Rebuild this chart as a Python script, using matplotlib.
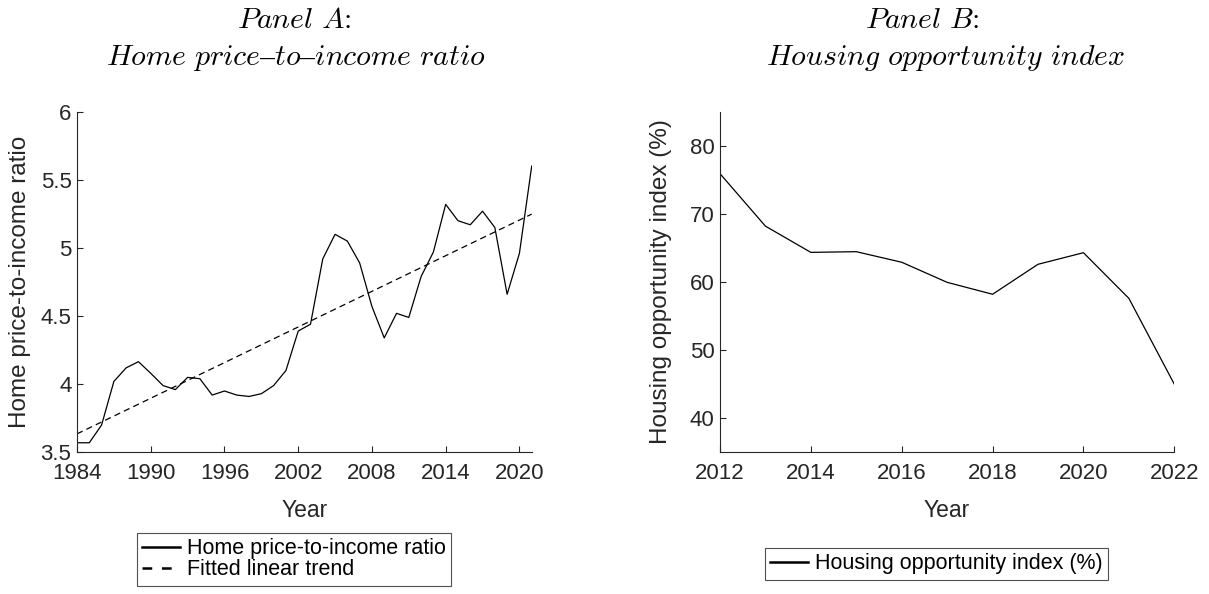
import numpy as np
import matplotlib
matplotlib.use("Agg")
import matplotlib.pyplot as plt
from matplotlib.lines import Line2D

# Panel A: annual home price-to-income ratio
years_a = np.arange(1984, 2022)
ratio = [3.57, 3.57, 3.70, 4.02, 4.12, 4.165, 4.08, 3.99, 3.96, 4.05,
         4.04, 3.92, 3.95, 3.92, 3.91, 3.93, 3.99, 4.10, 4.39, 4.44,
         4.92, 5.10, 5.05, 4.89, 4.57, 4.34, 4.52, 4.49, 4.79, 4.97,
         5.32, 5.20, 5.17, 5.27, 5.15, 4.66, 4.96, 5.60]

# Panel B: housing opportunity index (%)
years_b = np.arange(2012, 2023)
hoi = [75.9, 68.2, 64.35, 64.45, 62.9, 59.95, 58.2, 62.6, 64.3, 57.6, 45.0]

xticks_a = [1984, 1990, 1996, 2002, 2008, 2014, 2020]
yticks_a = [3.5, 4, 4.5, 5, 5.5, 6]
xticks_b = [2012, 2014, 2016, 2018, 2020, 2022]
yticks_b = [40, 50, 60, 70, 80]

plt.rcParams['font.family'] = ['Liberation Sans', 'DejaVu Sans']
plt.rcParams['mathtext.fontset'] = 'cm'
plt.rcParams['lines.scale_dashes'] = False
ink = '#262626'

fig = plt.figure(figsize=(12.09, 5.94), dpi=100)
W, H = 1209, 594


def box(l, t, r, b):
    return [l / W, 1 - b / H, (r - l) / W, (b - t) / H]


def style(ax):
    for s in ['top', 'right']:
        ax.spines[s].set_visible(False)
    for s in ['left', 'bottom']:
        ax.spines[s].set_color(ink)
        ax.spines[s].set_linewidth(0.8)
    ax.tick_params(direction='in', length=4, width=0.8, colors=ink,
                   labelsize=16, labelcolor=ink)
    ax.tick_params(axis='x', pad=8)
    ax.tick_params(axis='y', pad=4)


# trend fitted by least squares on the ratio series
coef = np.polyfit(years_a, ratio, 1)
trend = np.polyval(coef, years_a)

ax1 = fig.add_axes(box(77, 111.7, 531.7, 452.3))
ax1.plot(years_a, ratio, color='k', lw=0.9)
ax1.plot(years_a, trend, color='k', lw=0.9, dashes=(4.5, 3))
ax1.set_xlim(1984, 2021)
ax1.set_ylim(3.5, 6)
ax1.set_xticks(xticks_a)
ax1.set_yticks(yticks_a)
ax1.set_yticklabels(['3.5', '4', '4.5', '5', '5.5', '6'])
style(ax1)
ax1.set_xlabel('Year', fontsize=16.5, color=ink)
ax1.set_ylabel('Home price-to-income ratio', fontsize=17.5, color=ink, va='center')
ax1.yaxis.set_label_coords(-0.125, 0.5)
ax1.xaxis.set_label_coords(0.5, -0.137)

ax2 = fig.add_axes(box(720, 111.7, 1174.3, 452.3))
ax2.plot(years_b, hoi, color='k', lw=0.9)
ax2.set_xlim(2012, 2022)
ax2.set_ylim(35, 85)
ax2.set_xticks(xticks_b)
ax2.set_yticks(yticks_b)
style(ax2)
ax2.set_xlabel('Year', fontsize=16.5, color=ink)
ax2.set_ylabel('Housing opportunity index (%)', fontsize=17.5, color=ink, va='center')
ax2.yaxis.set_label_coords(-0.130, 0.5)
ax2.xaxis.set_label_coords(0.5, -0.137)

# panel titles
tkw = dict(ha='center', va='baseline', fontsize=21.5, color='k', family='cmr10')
fig.text(294 / W, 1 - 28 / H, r'$\mathit{Panel\ A}$:', **tkw)
fig.text(296 / W, 1 - 65 / H, r'$\mathit{Home\ price–to–income\ ratio}$', **tkw)
fig.text(922 / W, 1 - 28 / H, r'$\mathit{Panel\ B}$:', **tkw)
fig.text(946 / W, 1 - 65 / H, r'$\mathit{Housing\ opportunity\ index}$', **tkw)

# legends below each panel
lkw = dict(fontsize=15.5, frameon=True, fancybox=False, edgecolor=ink,
           borderaxespad=0, borderpad=0.25, handlelength=1.75,
           handletextpad=0.3, labelspacing=0.0)
h_a = [Line2D([], [], color='k', lw=1.8),
       Line2D([], [], color='k', lw=1.8, dashes=(7, 7))]
leg1 = fig.legend(h_a, ['Home price-to-income ratio', 'Fitted linear trend'],
                  loc='upper left', bbox_to_anchor=(137 / W, 1 - 533 / H), **lkw)
h_b = [Line2D([], [], color='k', lw=1.8)]
leg2 = fig.legend(h_b, ['Housing opportunity index (%)'],
                  loc='upper left', bbox_to_anchor=(765 / W, 1 - 548 / H), **lkw)
for leg in (leg1, leg2):
    leg.get_frame().set_linewidth(0.8)

fig.savefig('out.png', dpi=100)
